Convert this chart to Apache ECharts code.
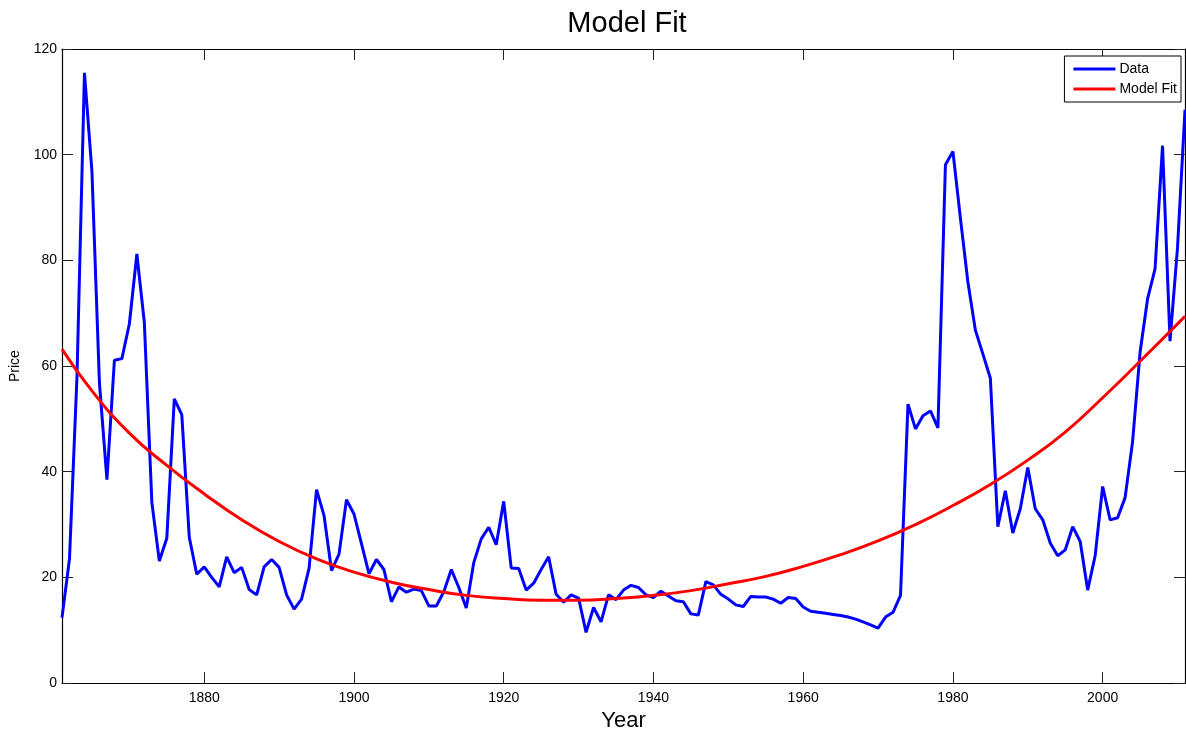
<!DOCTYPE html>
<html>
<head>
<meta charset="utf-8">
<script src="https://cdn.jsdelivr.net/npm/echarts@6/dist/echarts.min.js"></script>
<style>
html,body{margin:0;padding:0;background:#fff;}
#chart{width:1186px;height:737px;}
</style>
</head>
<body>
<div id="chart"></div>
<script>
const years = [1861,1862,1863,1864,1865,1866,1867,1868,1869,1870,
1871,1872,1873,1874,1875,1876,1877,1878,1879,1880,
1881,1882,1883,1884,1885,1886,1887,1888,1889,1890,
1891,1892,1893,1894,1895,1896,1897,1898,1899,1900,
1901,1902,1903,1904,1905,1906,1907,1908,1909,1910,
1911,1912,1913,1914,1915,1916,1917,1918,1919,1920,
1921,1922,1923,1924,1925,1926,1927,1928,1929,1930,
1931,1932,1933,1934,1935,1936,1937,1938,1939,1940,
1941,1942,1943,1944,1945,1946,1947,1948,1949,1950,
1951,1952,1953,1954,1955,1956,1957,1958,1959,1960,
1961,1962,1963,1964,1965,1966,1967,1968,1969,1970,
1971,1972,1973,1974,1975,1976,1977,1978,1979,1980,
1981,1982,1983,1984,1985,1986,1987,1988,1989,1990,
1991,1992,1993,1994,1995,1996,1997,1998,1999,2000,
2001,2002,2003,2004,2005,2006,2007,2008,2009,2010,2011];

const price = [12.4,23.5,58.0,115.5,96.8,56.8,38.5,61.1,61.4,68.0,
81.2,68.2,34.2,23.1,27.4,53.8,50.8,27.6,20.6,22.0,
20.0,18.2,23.9,20.9,21.9,17.7,16.7,22.0,23.4,21.9,
16.7,14.0,15.9,21.7,36.6,31.7,21.3,24.4,34.7,32.0,
26.4,20.7,23.4,21.5,15.4,18.2,17.2,17.8,17.5,14.6,
14.6,17.3,21.5,18.1,14.2,22.8,27.3,29.5,26.2,34.4,
21.8,21.7,17.6,18.9,21.5,23.9,16.8,15.3,16.7,16.1,
9.6,14.3,11.6,16.7,15.8,17.6,18.5,18.1,16.7,16.2,
17.4,16.5,15.6,15.4,13.1,12.9,19.2,18.6,16.8,15.9,
14.8,14.5,16.4,16.3,16.3,15.9,15.1,16.2,16.0,14.4,
13.6,13.4,13.2,13.0,12.8,12.5,12.1,11.6,11.0,10.4,
12.5,13.4,16.6,52.8,48.1,50.6,51.5,48.3,98.1,100.6,
88.0,75.9,66.8,62.3,57.7,29.6,36.4,28.4,33.0,40.8,
33.0,30.9,26.5,24.1,25.2,29.6,26.8,17.6,24.1,37.2,
30.9,31.3,35.1,45.7,62.6,72.7,78.4,101.7,64.7,82.4,108.5];

const fitYears = [1861,1865,1870,1875,1880,1885,1890,1895,1900,1905,1910,1915,1920,1925,1930,1935,1940,1945,1950,1955,1960,1965,1970,1975,1980,1985,1990,1995,2000,2005,2011];
const fitValues = [63.2,55.3,47.3,41.2,35.8,30.9,26.8,23.5,21.0,19.1,17.7,16.6,16.0,15.7,15.7,16.0,16.6,17.5,18.8,20.2,22.1,24.3,26.9,30.0,33.6,37.6,42.2,47.5,54.0,60.9,69.4];

const xTicks = [1880,1900,1920,1940,1960,1980,2000];
const yTicks = [0,20,40,60,80,100,120];

const dataPts = years.map((y,i)=>[y,price[i]]);
const fitPts = fitYears.map((y,i)=>[y,fitValues[i]]);

const FONT = 'Liberation Sans, Arial, sans-serif';
const chart = echarts.init(document.getElementById('chart'), null, {renderer:'canvas'});

const tickStyle = {show:true, inside:true, length:11, lineStyle:{color:'#222', width:1}};
const axisLine = {show:true, onZero:false, lineStyle:{color:'#000', width:1.2}};

chart.setOption({
  animation:false,
  backgroundColor:'#fff',
  title:{text:'Model Fit', left:622, textAlign:'center', top:4,
    textStyle:{fontFamily:FONT, fontSize:29, fontWeight:'normal', color:'#000'}},
  legend:{
    orient:'vertical', right:5, top:56,
    backgroundColor:'#fff', borderColor:'#000', borderWidth:1,
    padding:[6,4,6,9], itemGap:6, itemWidth:42, itemHeight:3,
    icon:'rect',
    textStyle:{fontFamily:FONT, fontSize:14, color:'#000', padding:[0,0,0,-1]},
    data:['Data','Model Fit']
  },
  grid:{left:58, right:1, top:49, bottom:50, containLabel:false},
  xAxis:[{
    type:'value', min:1861, max:2011, position:'bottom',
    name:'Year', nameLocation:'middle', nameGap:26,
    nameTextStyle:{fontFamily:FONT, fontSize:22, color:'#000'},
    axisLine:axisLine,
    axisTick:Object.assign({}, tickStyle, {customValues:xTicks}),
    axisLabel:{customValues:xTicks, margin:8, fontFamily:FONT, fontSize:14, color:'#000',
      formatter:function(v){return String(v);}},
    splitLine:{show:false}
  },{
    type:'value', min:1861, max:2011, position:'top',
    axisLine:axisLine,
    axisTick:Object.assign({}, tickStyle, {customValues:xTicks}),
    axisLabel:{show:false},
    splitLine:{show:false}
  }],
  yAxis:[{
    type:'value', min:0, max:120, interval:20, position:'left',
    name:'Price', nameLocation:'middle', nameGap:40,
    nameTextStyle:{fontFamily:FONT, fontSize:14, color:'#000'},
    axisLine:axisLine,
    axisTick:tickStyle,
    axisLabel:{margin:5, fontFamily:FONT, fontSize:14, color:'#000'},
    splitLine:{show:false}
  },{
    type:'value', min:0, max:120, interval:20, position:'right',
    axisLine:axisLine,
    axisTick:tickStyle,
    axisLabel:{show:false},
    splitLine:{show:false}
  }],
  series:[{
    name:'Data', type:'line', xAxisIndex:0, yAxisIndex:0,
    data:dataPts, showSymbol:false, symbol:'none',
    lineStyle:{color:'#0000ff', width:3}, itemStyle:{color:'#0000ff'},
    clip:true, z:3
  },{
    name:'Model Fit', type:'line', xAxisIndex:0, yAxisIndex:0,
    data:fitPts, showSymbol:false, symbol:'none', smooth:true,
    lineStyle:{color:'#ff0000', width:3}, itemStyle:{color:'#ff0000'},
    clip:true, z:4
  }]
});
</script>
</body>
</html>
